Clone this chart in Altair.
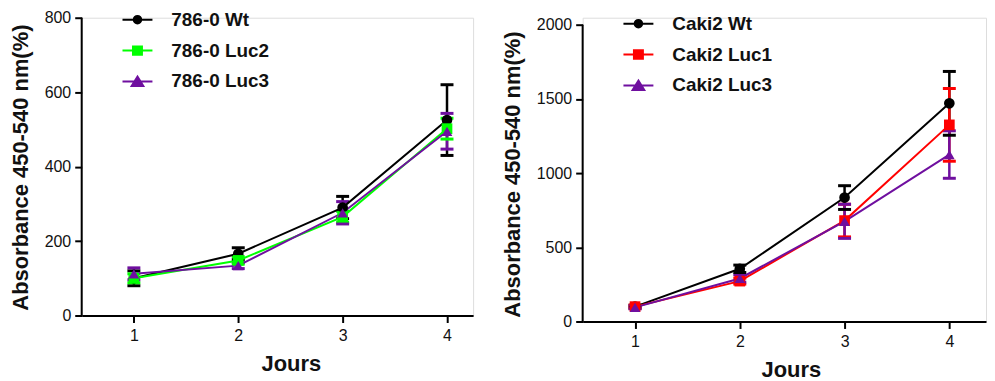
import altair as alt
import pandas as pd

days = [1, 2, 3, 4]

# Left panel (786-0)
left_names = ["786-0 Wt", "786-0 Luc2", "786-0 Luc3"]
left_colors = ["#000000", "#00ff00", "#6f0f9f"]
left_wt = [100, 166, 290, 525]
left_wt_err = [20, 16, 30, 95]
left_luc2 = [100, 148, 265, 502]
left_luc2_err = [12, 10, 15, 28]
left_luc3 = [112, 134, 276, 495]
left_luc3_err = [16, 8, 30, 48]

# Right panel (Caki2)
right_names = ["Caki2 Wt", "Caki2 Luc1", "Caki2 Luc3"]
right_colors = ["#000000", "#ff0000", "#6f0f9f"]
right_wt = [100, 355, 835, 1470]
right_wt_err = [10, 25, 80, 215]
right_luc1 = [100, 272, 680, 1325]
right_luc1_err = [10, 20, 110, 245]
right_luc3 = [95, 290, 675, 1125]
right_luc3_err = [10, 25, 115, 160]

y_left_ticks = [0, 200, 400, 600, 800]
y_right_ticks = [0, 500, 1000, 1500, 2000]

point_shapes = ["circle", "square", "triangle-up"]
# legend glyphs: a horizontal line with the marker (unit = 9px)
legend_paths = [
    "M-1.67,0H1.67M0.42,0A0.42,0.42,0,1,1,-0.42,0A0.42,0.42,0,1,1,0.42,0Z",
    "M-1.67,0H1.67M-0.5,-0.47H0.5V0.47H-0.5Z",
    "M-1.67,0H1.67M0,-0.55L0.65,0.5L-0.65,0.5Z",
]

FONT = "Liberation Sans"


def make_df(names, vals, errs):
    rows = []
    for n, v, e in zip(names, vals, errs):
        for d, m, s in zip(days, v, e):
            rows.append({"day": d, "value": m, "lo": m - s, "hi": m + s, "s": n})
    return pd.DataFrame(rows)


def panel(df, names, colors, ymax, yshow, yticks, width, height, xmax, legend_y,
          xtitle_x, ytitle_y):
    xs = alt.Scale(domain=[0.5, xmax], nice=False, zero=False)
    ys = alt.Scale(domain=[0, ymax], nice=False)
    cs = alt.Scale(domain=names, range=colors)
    xaxis = alt.Axis(values=days, format="d", title="Jours", grid=False,
                     labelFontSize=16, labelFont=FONT, labelColor="#111",
                     titleFontSize=22, titleFont=FONT, titleFontWeight="bold",
                     titleColor="#111", tickSize=7, tickWidth=2, tickColor="black",
                     domainWidth=2, domainColor="black", labelPadding=5, titlePadding=10,
                     titleX=xtitle_x)
    yaxis = alt.Axis(values=yticks, format="d", title="Absorbance 450-540 nm(%)", grid=False,
                     labelFontSize=16, labelFont=FONT, labelColor="#111",
                     titleFontSize=22, titleFont=FONT, titleFontWeight="bold",
                     titleColor="#111", tickSize=7, tickWidth=2, tickColor="black",
                     domain=False, labelPadding=4, titlePadding=12, titleY=ytitle_y)
    base = alt.Chart(df)
    x = alt.X("day:Q", scale=xs, axis=xaxis)
    y = alt.Y("value:Q", scale=ys, axis=yaxis)
    col = alt.Color("s:N", scale=cs, legend=None)

    # y axis line, from 0 to the top tick
    yline = alt.Chart(pd.DataFrame({"y0": [0], "y1": [yshow]})).mark_rule(
        color="black", strokeWidth=2).encode(
        x=alt.value(0), y=alt.Y("y0:Q", scale=ys), y2="y1:Q")

    rules = base.mark_rule(strokeWidth=2.5).encode(
        x=x, y=alt.Y("lo:Q", scale=ys), y2="hi:Q", color=col)
    cap_hi = base.mark_tick(orient="horizontal", size=13, thickness=3, opacity=1).encode(
        x=x, y=alt.Y("hi:Q", scale=ys), color=col)
    cap_lo = base.mark_tick(orient="horizontal", size=13, thickness=3, opacity=1).encode(
        x=x, y=alt.Y("lo:Q", scale=ys), color=col)
    lines = base.mark_line(strokeWidth=2).encode(x=x, y=y, color=col, detail="s:N")
    pts = base.mark_point(filled=True, opacity=1, size=115).encode(
        x=x, y=y, color=col,
        shape=alt.Shape("s:N", scale=alt.Scale(domain=names, range=point_shapes), legend=None))

    leg = alt.Legend(orient="none", legendX=46, legendY=legend_y, title=None,
                     labelFont=FONT, labelFontSize=19, labelFontWeight="bold",
                     labelColor="#111", symbolSize=324, symbolStrokeWidth=2,
                     labelOffset=24, rowPadding=11, padding=0, symbolOpacity=1)
    legend_layer = base.transform_filter("false").mark_point(filled=True, opacity=1).encode(
        x=x, y=y,
        fill=alt.Fill("s:N", scale=alt.Scale(domain=names, range=colors), legend=leg),
        stroke=alt.Stroke("s:N", scale=alt.Scale(domain=names, range=colors), legend=leg),
        shape=alt.Shape("s:N", scale=alt.Scale(domain=names, range=legend_paths), legend=leg),
    )
    return alt.layer(yline, rules, cap_hi, cap_lo, lines, pts, legend_layer).resolve_scale(
        shape="independent", fill="independent", stroke="independent"
    ).properties(width=width, height=height)


left_df = make_df(left_names, [left_wt, left_luc2, left_luc3],
                  [left_wt_err, left_luc2_err, left_luc3_err])
right_df = make_df(right_names, [right_wt, right_luc1, right_luc3],
                   [right_wt_err, right_luc1_err, right_luc3_err])

left = panel(left_df, left_names, left_colors, 800, 800, y_left_ticks, 393, 299, 4.25, -8,
             210, 150)
right = panel(right_df, right_names, right_colors, 2047, 2000, y_right_ticks, 405, 305, 4.35, -4,
              209, 157)

chart = alt.hconcat(left, right, spacing=26).resolve_scale(
    color="independent", shape="independent", fill="independent", stroke="independent",
    x="independent", y="independent"
).configure_view(stroke=None).configure(padding=0, background="white")

chart.save("out.html", embed_options={"renderer": "svg", "actions": False})
